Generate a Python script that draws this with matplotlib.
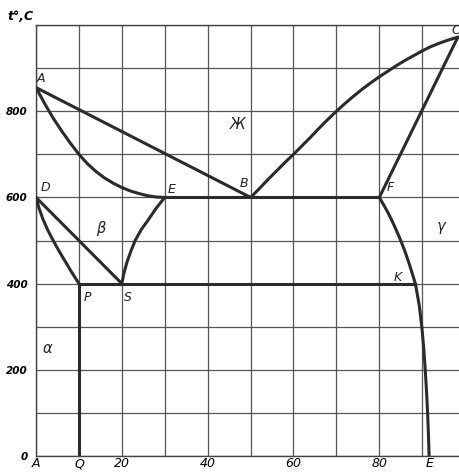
import numpy as np
import matplotlib.pyplot as plt
import matplotlib
font = {'size': 9, 'style': 'italic'}

matplotlib.rc('font', **font)

# phase boundaries, x in % of component E, t in deg C
ab_x = [0, 50]
ab_t = [855, 600]
ae_x = [0, 2, 4, 6, 8, 10, 12, 14, 16, 18, 20, 22, 24, 26, 28, 30]
ae_t = [855, 818, 784, 754, 726, 700, 678, 660, 645, 633, 623, 615, 609, 604, 601, 600]
bc_x = [50, 52, 54, 56, 58, 60, 62, 64, 66, 68, 70, 72, 74, 76, 78, 80,
        82, 84, 86, 88, 90, 92, 94, 96, 98.3]
bc_t = [600, 620, 641, 661, 681, 700, 720, 740, 761, 781, 800, 818, 835, 851, 866, 880,
        893, 906, 918, 929, 940, 950, 958, 965, 972]
fc_x = [80, 98.3]
fc_t = [600, 972]
ef_x = [30, 80]
ef_t = [600, 600]
dp_x = [0, 0.7, 1.6, 2.7, 4, 5.4, 6.9, 8.4, 10]
dp_t = [600, 575, 550, 525, 500, 475, 450, 425, 400]
ds_x = [0, 20]
ds_t = [600, 400]
se_x = [20, 20.5, 21.2, 22.1, 23.1, 24.5, 26.3, 28, 30]
se_t = [400, 425, 450, 475, 500, 525, 550, 575, 600]
pk_x = [10, 88.4]
pk_t = [400, 400]
pq_x = [10, 10]
pq_t = [400, 0]
fke_x = [80, 81, 82, 83, 84, 85, 86, 87, 88, 88.4, 89.3, 89.9, 90.35, 90.7, 91, 91.25, 91.45, 91.6]
fke_t = [600, 583, 565, 545, 523, 500, 474, 445, 413, 400, 350, 300, 250, 200, 150, 100, 50, 0]

# labels of points and phases
point_names = ['A', 'D', 'E', 'B', 'F', 'C', 'K', 'P', 'S']
point_x = [1.2, 2.1, 31.6, 48.4, 82.6, 97.9, 84.2, 11.9, 21.4]
point_t = [877, 624, 619, 633, 624, 988, 415, 367, 367]
phase_names = ['Ж', r'$\beta$', r'$\gamma$', r'$\alpha$']
phase_x = [46.9, 15.2, 94.6, 2.8]
phase_t = [770, 529, 529, 250]

x_names = ['A', 'Q', '20', '40', '60', '80', 'E']
x_pos = [0, 10, 20, 40, 60, 80, 91.6]
t_ticks = [0, 200, 400, 600, 800]

fig = plt.figure(figsize=(4.6, 4.72), dpi=100)
ax = fig.add_axes([0.0783, 0.0339, 0.9217, 0.913])

lc = '#2b2b2b'
lw = 2.2
for xs, ts in [(ab_x, ab_t), (ae_x, ae_t), (bc_x, bc_t), (fc_x, fc_t),
               (ef_x, ef_t), (dp_x, dp_t), (ds_x, ds_t), (se_x, se_t),
               (pk_x, pk_t), (pq_x, pq_t), (fke_x, fke_t)]:
    ax.plot(xs, ts, color=lc, lw=lw, solid_capstyle='round', solid_joinstyle='round', zorder=3)

ax.set_xlim(0, 98.8)
ax.set_ylim(0, 1000)
# major ticks -> grid only, minor ticks -> labels
ax.xaxis.remove_overlapping_locs = False
ax.yaxis.remove_overlapping_locs = False
ax.set_xticks(np.arange(0, 100, 10))
ax.set_yticks(np.arange(0, 1001, 100))
ax.set_xticklabels([])
ax.set_yticklabels([])
ax.set_xticks(x_pos, minor=True)
ax.set_xticklabels(x_names, minor=True)
ax.set_yticks(t_ticks, minor=True)
ax.set_yticklabels([str(t) for t in t_ticks], minor=True, fontsize=7.5, fontweight='bold')
ax.tick_params(which='both', length=0)
ax.tick_params(axis='x', which='minor', pad=1, labelsize=9)
ax.tick_params(axis='y', which='minor', pad=6)
ax.grid(which='major', color='#555555', lw=0.9)
for s in ['left', 'bottom', 'top']:
    ax.spines[s].set_color('#444444')
    ax.spines[s].set_linewidth(1.0)
ax.spines['right'].set_visible(False)

for n, x, t in zip(point_names, point_x, point_t):
    ax.text(x, t, n, fontsize=9, ha='center', va='center', color='#222222')
for n, x, t in zip(phase_names, phase_x, phase_t):
    ax.text(x, t, n, fontsize=10.5, ha='center', va='center', color='#222222')

fig.text(0.045, 0.965, 't°,C', fontsize=9, fontweight='bold', ha='center', va='center')

fig.savefig('out.png', dpi=100)
